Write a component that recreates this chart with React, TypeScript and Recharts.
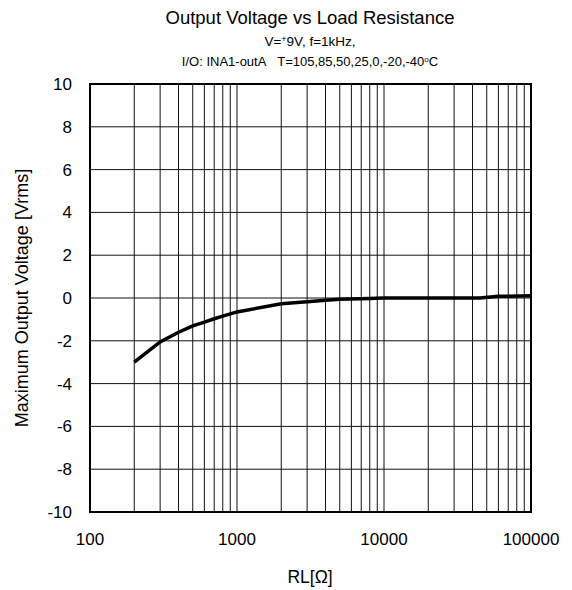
import {
  LineChart,
  XAxis,
  YAxis,
  Line,
  CartesianGrid,
  ReferenceArea,
} from "recharts";

const loadOhms = [
  200, 300, 400, 500, 600, 700, 800, 1000, 2000, 3000, 4000, 5000, 8000,
  10000, 20000, 30000, 45000, 60000, 100000,
];
const outVrms = [
  -3.0, -2.05, -1.6, -1.3, -1.13, -0.97, -0.85, -0.65, -0.27, -0.18, -0.1,
  -0.06, -0.02, 0, 0, 0, 0, 0.08, 0.1,
];

const xDecades = [100, 1000, 10000];
const xSteps = [1, 2, 3, 4, 5, 6, 7, 8, 9];
const xTicks = [...xDecades.flatMap((d) => xSteps.map((s) => d * s)), 100000];
const xLabels = [100, 1000, 10000, 100000];
const yTicks = [-10, -8, -6, -4, -2, 0, 2, 4, 6, 8, 10];

const data = loadOhms.map((rl, i) => ({ rl, v: outVrms[i] }));

const font = "'Liberation Sans', Arial, sans-serif";

export default function App() {
  return (
    <div style={{ position: "relative", width: 556, height: 582, fontFamily: font }}>
      <LineChart
        width={556}
        height={582}
        data={data}
        margin={{ top: 76, right: 33, bottom: 38, left: 0 }}
      >
        <CartesianGrid stroke="#111" strokeWidth={1} />
        <XAxis
          dataKey="rl"
          type="number"
          scale="log"
          domain={[100, 100000]}
          ticks={xTicks}
          allowDataOverflow
          tickLine={false}
          tickSize={0}
          tickMargin={21}
          height={40}
          axisLine={false}
          interval={0}
          tickFormatter={(t: number) => (xLabels.includes(t) ? String(t) : "")}
          tick={{ fill: "#000", fontSize: 17, fontFamily: font }}
        />
        <YAxis
          type="number"
          domain={[-10, 10]}
          ticks={yTicks}
          width={82}
          tickLine={false}
          tickSize={0}
          tickMargin={18}
          axisLine={false}
          interval={0}
          tick={{ fill: "#000", fontSize: 17, fontFamily: font }}
        />
        <ReferenceArea
          x1={100}
          x2={100000}
          y1={-10}
          y2={10}
          fill="none"
          fillOpacity={0}
          stroke="#000"
          strokeWidth={2}
        />
        <Line
          dataKey="v"
          type="linear"
          stroke="#000"
          strokeWidth={3.5}
          dot={false}
          isAnimationActive={false}
        />
      </LineChart>
      <svg
        width={572}
        height={590}
        style={{ position: "absolute", left: -8, top: -8, pointerEvents: "none" }}
        fontFamily={font}
      >
        <text x={310} y={24} textAnchor="middle" fontSize={18.5} fill="#000">
          Output Voltage vs Load Resistance
        </text>
        <text x={310} y={46} textAnchor="middle" fontSize={13.5} fill="#000">
          V=<tspan dy={-4} fontSize={9}>+</tspan>
          <tspan dy={4}>9V, f=1kHz,</tspan>
        </text>
        <text x={310} y={66} textAnchor="middle" fontSize={13} fill="#000">
          {"I/O: INA1-outA\u00a0\u00a0\u00a0T=105,85,50,25,0,-20,-40"}
          <tspan dy={-4} fontSize={8}>o</tspan>
          <tspan dy={4}>C</tspan>
        </text>
        <text
          x={0}
          y={0}
          transform="translate(22 298) rotate(-90)"
          textAnchor="middle"
          dominantBaseline="central"
          fontSize={18}
          fill="#000"
        >
          Maximum Output Voltage [Vrms]
        </text>
        <text x={310} y={583} textAnchor="middle" fontSize={17.5} fill="#000">
          RL[Ω]
        </text>
      </svg>
    </div>
  );
}
